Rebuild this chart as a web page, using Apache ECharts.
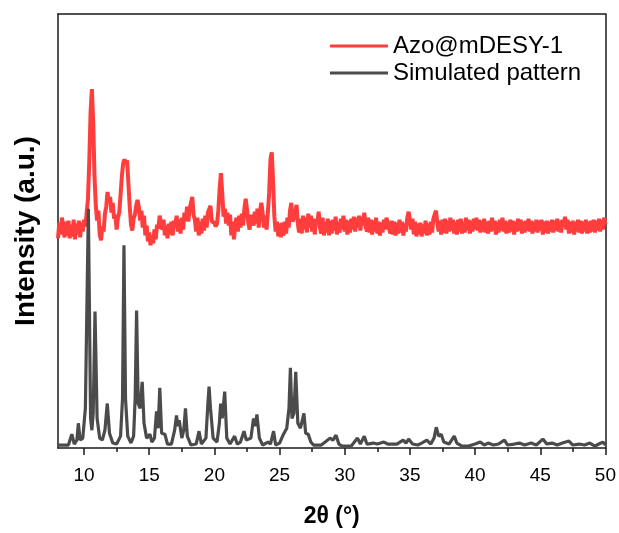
<!DOCTYPE html>
<html>
<head>
<meta charset="utf-8">
<script src="https://cdn.jsdelivr.net/npm/echarts@6/dist/echarts.min.js"></script>
<style>html,body{margin:0;padding:0;background:#fff}#c{width:619px;height:533px}</style>
</head>
<body>
<div id="c"></div>
<script>
// Azo@mDESY-1 measured pattern: 2θ from 8.0 step 0.1
const redStart = 8.0;
const redStep = 0.1;
const red08to18 = [212,228,216,233,224,213,229,215,230,212,226,214,231,211,227,216,230,213,228,219,
  231,224,238,252,290,340,363,330,275,245,
  230,240,216,210,224,219,237,244,259,248,
  254,238,248,232,236,221,233,238,256,275,
  288,292,287,291,268,245,226,220,232,236,
  245,251,244,230,240,223,235,215,225,209,
  218,205,215,207,221,211,226,222,235,236,
  221,231,215,225,212,227,216,229,215,230,
  226,235,219,231,217,233,221,238,230,244];
const red18to28 = [229,242,244,254,236,231,219,233,215,229,
  217,232,220,235,223,238,238,245,229,229,
  228,224,227,240,262,278,258,234,242,227,
  238,225,236,215,229,211,227,233,219,235,
  223,237,225,242,252,242,228,221,236,235,
  225,239,227,242,223,240,248,238,223,235,
  221,238,258,292,299,270,234,219,229,214,
  227,213,228,215,229,217,233,223,240,248,
  229,229,238,246,227,218,232,217,235,221,
  233,218,237,223,235,219,232,216,231,228];
const red28to38 = [239,223,217,233,215,229,218,232,215,230,
  217,231,220,234,216,229,218,232,221,235,
  219,231,216,230,218,232,221,234,219,233,
  223,235,220,234,225,238,224,219,233,218,
  231,216,230,219,233,217,229,215,228,218,
  231,221,233,234,222,217,230,216,229,215,
  228,217,231,218,229,215,227,219,233,239,
  231,221,232,216,229,214,227,216,228,214,
  226,217,230,215,227,216,229,218,232,232,
  240,228,219,230,216,231,218,232,217,230];
const red38to50 = [219,233,220,231,217,229,216,231,219,232,
  217,229,218,233,220,231,217,230,219,232,
  221,233,220,231,218,230,219,232,218,229,
  217,230,219,233,220,230,216,229,218,231,
  220,233,219,230,217,229,218,231,219,230,
  216,229,219,232,220,231,217,229,218,230,
  220,232,219,230,217,229,219,231,218,230,
  220,231,216,229,218,230,217,229,219,231,
  218,230,220,232,219,230,218,231,224,234,
  221,231,217,229,218,230,216,229,219,231,
  218,230,217,229,219,231,217,229,218,230,
  219,231,218,230,220,232,219,231,221,233,
  226];

// Simulated pattern
const simX = [8.0,8.8,9.06,9.25,9.45,9.56,9.7,9.9,10.1,10.33,
  10.5,10.6,10.7,10.84,11.0,11.2,11.4,11.6,11.78,11.95,
  12.2,12.5,12.8,12.95,13.06,13.18,13.35,13.6,13.8,13.92,
  14.03,14.15,14.3,14.46,14.6,14.8,15.05,15.2,15.4,15.56,
  15.68,15.81,15.95,16.2,16.4,16.7,16.95,17.09,17.2,17.3,
  17.5,17.65,17.78,17.92,18.2,18.6,18.82,19.0,19.35,19.5,
  19.59,19.7,19.9,20.2,20.38,20.48,20.6,20.79,20.95,21.2,
  21.55,21.75,22.0,22.27,22.45,22.8,23.0,23.12,23.26,23.45,
  23.7,24.1,24.3,24.54,24.7,25.0,25.3,25.55,25.72,25.83,
  25.95,26.1,26.24,26.4,26.6,26.87,27.0,27.2,27.4,27.6,
  28.2,28.5,28.87,29.1,29.33,29.55,29.8,30.5,30.98,31.2,
  31.5,31.7,32.2,32.5,33.0,33.3,34.0,34.48,34.7,34.9,
  35.2,35.6,35.9,36.3,36.6,36.85,37.02,37.2,37.4,37.6,
  38.0,38.4,38.6,39.0,39.5,40.0,40.4,40.7,41.0,41.4,
  41.8,42.25,42.5,43.0,43.4,43.8,44.3,44.7,45.2,45.5,
  45.9,46.3,46.7,47.2,47.5,48.0,48.4,48.8,49.2,49.5,
  49.8,50.0];
const simY = [3,3,14,4,8,25,8,10,40,242,
  30,18,35,138,30,10,8,18,45,15,
  5,4,12,50,205,50,12,5,12,50,
  139,45,40,67,25,10,14,6,10,37,
  20,61,15,14,4,4,18,33,22,28,
  10,18,40,12,3,4,17,4,10,45,
  62,40,10,6,25,45,30,57,10,4,
  12,4,6,17,8,10,30,22,34,10,
  3,6,4,17,3,5,14,20,40,81,
  30,35,77,25,20,35,15,14,6,3,
  3,6,10,8,13,4,2,2,10,4,
  12,4,5,4,6,4,4,8,5,9,
  4,3,5,8,4,10,21,12,14,6,
  4,12,5,2,2,4,6,3,5,3,
  4,8,3,4,5,3,5,3,9,4,
  5,3,5,7,3,4,3,5,2,4,
  6,3];

const majorTicks = [10,15,20,25,30,35,40,45,50];
const minorTicks = [12.5,17.5,22.5,27.5,32.5,37.5,42.5,47.5];
const seriesNames = ['Azo@mDESY-1','Simulated pattern'];

const redAll = red08to18.concat(red18to28, red28to38, red38to50);
const redData = redAll.map((v,i) => [Math.round((redStart + i*redStep)*100)/100, v]);
const simData = simX.slice(0, Math.min(simX.length, simY.length)).map((x,i) => [x, simY[i]]);

const FONT = '"Liberation Sans", Arial, sans-serif';
const frame = {color:'#1a1a1a', width:1.5};

const chart = echarts.init(document.getElementById('c'), null, {renderer:'canvas'});
chart.setOption({
  animation:false,
  backgroundColor:'#ffffff',
  grid:{left:58, right:13, top:14, bottom:80, containLabel:false},
  legend:{
    data:seriesNames, orient:'vertical', left:330, top:34, padding:0,
    itemWidth:58, itemHeight:3, itemGap:3, icon:'rect',
    textStyle:{fontSize:24, color:'#000', fontFamily:FONT}
  },
  xAxis:[
    {type:'value', min:8, max:50, position:'bottom',
     axisLine:{show:true, onZero:false, lineStyle:frame},
     axisTick:{show:true, inside:false, length:7, customValues:majorTicks, lineStyle:frame},
     axisLabel:{show:true, customValues:majorTicks, fontSize:19, color:'#000', margin:18, fontFamily:FONT},
     splitLine:{show:false},
     name:'2θ (°)', nameLocation:'middle', nameGap:57,
     nameTextStyle:{fontSize:23, fontWeight:'bold', color:'#000', fontFamily:FONT}},
    {type:'value', min:8, max:50, position:'bottom',
     axisLine:{show:false, onZero:false},
     axisTick:{show:true, inside:false, length:4, customValues:minorTicks, lineStyle:frame},
     axisLabel:{show:false}, splitLine:{show:false}},
    {type:'value', min:8, max:50, position:'top',
     axisLine:{show:true, onZero:false, lineStyle:frame},
     axisTick:{show:false}, axisLabel:{show:false}, splitLine:{show:false}}
  ],
  yAxis:[
    {type:'value', min:0, max:439, position:'left',
     axisLine:{show:true, onZero:false, lineStyle:frame},
     axisTick:{show:false}, axisLabel:{show:false}, splitLine:{show:false},
     name:'Intensity (a.u.)', nameLocation:'middle', nameGap:18,
     nameTextStyle:{fontSize:28, fontWeight:'bold', color:'#000', fontFamily:FONT}},
    {type:'value', min:0, max:439, position:'right',
     axisLine:{show:true, onZero:false, lineStyle:frame},
     axisTick:{show:false}, axisLabel:{show:false}, splitLine:{show:false}}
  ],
  series:[
    {name:seriesNames[0], type:'line', xAxisIndex:0, yAxisIndex:0, data:redData,
     symbol:'none', showSymbol:false, lineStyle:{color:'#ff3d3d', width:4},
     itemStyle:{color:'#ff3d3d'}, z:2},
    {name:seriesNames[1], type:'line', xAxisIndex:0, yAxisIndex:0, data:simData,
     symbol:'none', showSymbol:false, lineStyle:{color:'#4b4b4b', width:3.2},
     itemStyle:{color:'#4b4b4b'}, z:3}
  ]
});
</script>
</body>
</html>
